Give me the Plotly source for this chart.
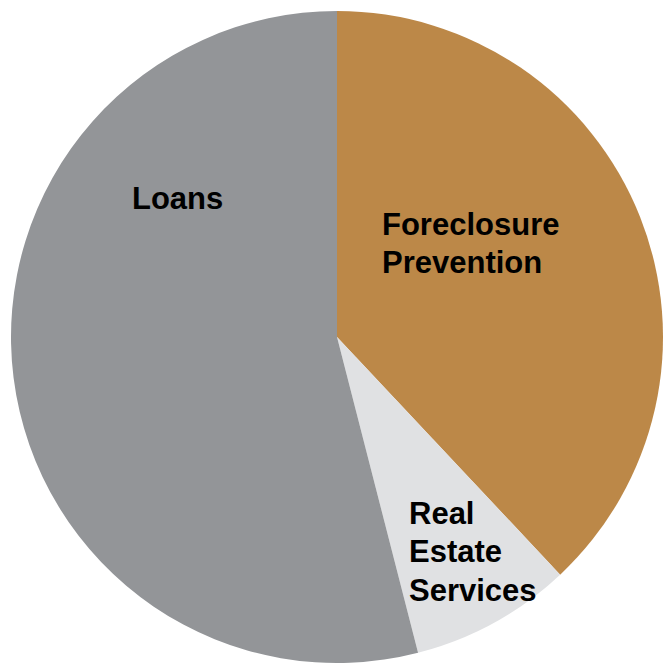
import plotly.graph_objects as go

# Share of funds by program (percent)
categories = ["Foreclosure Prevention", "Real Estate Services", "Loans"]
display_lines = [["Foreclosure", "Prevention"], ["Real", "Estate", "Services"], ["Loans"]]
shares = [38, 8, 54]
slice_colors = ["#BC8848", "#E0E1E3", "#939598"]

W, H = 665, 663

fig = go.Figure(
    go.Pie(
        labels=categories,
        values=shares,
        sort=False,
        direction="clockwise",
        rotation=0,
        marker=dict(colors=slice_colors, line=dict(width=0)),
        textinfo="none",
        hoverinfo="label+percent",
        showlegend=False,
        domain=dict(x=[11 / W, 663 / W], y=[0, 652 / H]),
    )
)

# Slice labels placed by hand inside each wedge (left-aligned, bold),
# one annotation per line for a tighter line pitch
label_pos = {
    "Foreclosure Prevention": (380, 205),
    "Real Estate Services": (407, 494),
    "Loans": (130, 179.5),
}
line_pitch = 38.4
for cat, lines in zip(categories, display_lines):
    px, py = label_pos[cat]
    for i, line in enumerate(lines):
        fig.add_annotation(
            x=px / W, y=1 - (py + i * line_pitch) / H, xref="paper", yref="paper",
            xanchor="left", yanchor="top", align="left",
            text=f"<b>{line}</b>", showarrow=False,
            font=dict(family="Liberation Sans, Arial, sans-serif", size=31, color="#000000"),
        )

fig.update_layout(
    width=W, height=H,
    margin=dict(l=0, r=0, t=0, b=0),
    paper_bgcolor="white",
    plot_bgcolor="white",
)

fig.write_html("out.html")
